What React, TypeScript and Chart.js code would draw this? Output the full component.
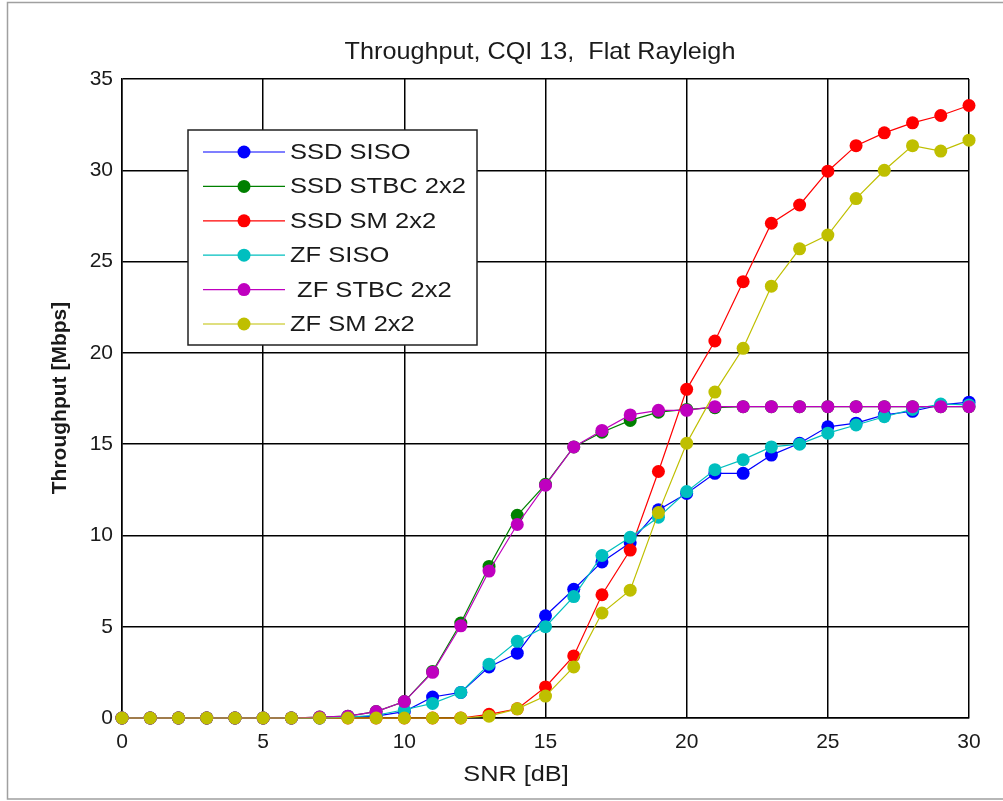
import React, { useEffect, useRef } from "react";
import { Chart, registerables } from "chart.js";

Chart.register(...registerables);

const snr = [0, 1, 2, 3, 4, 5, 6, 7, 8, 9, 10, 11, 12, 13, 14, 15, 16, 17, 18, 19, 20, 21, 22, 23, 24, 25, 26, 27, 28, 29, 30];

const ssdSiso = [0, 0, 0, 0, 0, 0, 0, 0, 0.05, 0.1, 0.35, 1.15, 1.4, 2.8, 3.55, 5.6, 7.05, 8.55, 9.6, 11.4, 12.3, 13.4, 13.4, 14.4, 15.05, 15.95, 16.15, 16.6, 16.8, 17.15, 17.3];
const ssdStbc = [0, 0, 0, 0, 0, 0, 0, 0.05, 0.1, 0.35, 0.9, 2.55, 5.2, 8.3, 11.1, 12.8, 14.85, 15.65, 16.3, 16.75, 16.9, 17.0, 17.05, 17.05, 17.05, 17.05, 17.05, 17.05, 17.05, 17.05, 17.05];
const ssdSm = [0, 0, 0, 0, 0, 0, 0, 0, 0, 0, 0, 0, 0, 0.2, 0.5, 1.7, 3.4, 6.75, 9.2, 13.5, 18.0, 20.65, 23.9, 27.1, 28.1, 29.95, 31.35, 32.05, 32.6, 33.0, 33.55];
const zfSiso = [0, 0, 0, 0, 0, 0, 0, 0, 0.05, 0.15, 0.45, 0.8, 1.4, 2.95, 4.2, 5.0, 6.65, 8.9, 9.9, 11.0, 12.4, 13.6, 14.15, 14.85, 15.0, 15.6, 16.05, 16.5, 16.9, 17.2, 17.15];
const zfStbc = [0, 0, 0, 0, 0, 0, 0, 0.05, 0.1, 0.35, 0.9, 2.5, 5.05, 8.05, 10.6, 12.75, 14.85, 15.75, 16.6, 16.85, 16.85, 17.05, 17.05, 17.05, 17.05, 17.05, 17.05, 17.05, 17.05, 17.05, 17.05];
const zfSm = [0, 0, 0, 0, 0, 0, 0, 0, 0, 0, 0, 0, 0, 0.1, 0.5, 1.2, 2.8, 5.75, 7.0, 11.25, 15.05, 17.85, 20.25, 23.65, 25.7, 26.45, 28.45, 30.0, 31.35, 31.05, 31.65];

const seriesNames = ["SSD SISO", "SSD STBC 2x2", "SSD SM 2x2", "ZF SISO", " ZF STBC 2x2", "ZF SM 2x2"];
const seriesValues = [ssdSiso, ssdStbc, ssdSm, zfSiso, zfStbc, zfSm];
const seriesColors = ["#0000ff", "#008000", "#ff0000", "#00bfbf", "#bf00bf", "#bfbf00"];

const xTicks = [0, 5, 10, 15, 20, 25, 30];
const yTicks = [0, 5, 10, 15, 20, 25, 30, 35];

const titleText = "Throughput, CQI 13,  Flat Rayleigh";
const xTitle = "SNR [dB]";
const yTitle = "Throughput [Mbps]";

const FONT = "'Liberation Sans', Arial, sans-serif";

function stretchedText(ctx: any, text: string, x: number, y: number, sx: number) {
  ctx.save();
  ctx.translate(x, y);
  ctx.scale(sx, 1);
  ctx.fillText(text, 0, 0);
  ctx.restore();
}

const decorPlugin = {
  id: "decor",
  beforeDraw(chart: any) {
    const ctx = chart.ctx;
    ctx.save();
    ctx.fillStyle = "#ffffff";
    ctx.fillRect(0, 0, chart.width, chart.height);
    ctx.strokeStyle = "#a0a0a0";
    ctx.lineWidth = 1.5;
    ctx.beginPath();
    ctx.moveTo(1003, 2.5);
    ctx.lineTo(7.5, 2.5);
    ctx.lineTo(7.5, 799);
    ctx.lineTo(1003, 799);
    ctx.stroke();
    ctx.restore();
  },
  afterDraw(chart: any) {
    const ctx = chart.ctx;
    const area = chart.chartArea;
    ctx.save();
    ctx.fillStyle = "#1a1a1a";
    ctx.textAlign = "center";
    ctx.textBaseline = "alphabetic";
    ctx.font = `24px ${FONT}`;
    stretchedText(ctx, titleText, 540, 59, 1.05);
    ctx.font = `22px ${FONT}`;
    stretchedText(ctx, xTitle, 516, 781, 1.15);
    ctx.save();
    ctx.translate(66, 398);
    ctx.rotate(-Math.PI / 2);
    ctx.font = `bold 21px ${FONT}`;
    ctx.fillText(yTitle, 0, 0);
    ctx.restore();

    // legend
    const bx = 188, by = 130, bw = 289, bh = 215;
    ctx.fillStyle = "#ffffff";
    ctx.fillRect(bx, by, bw, bh);
    ctx.strokeStyle = "#222";
    ctx.lineWidth = 1.5;
    ctx.strokeRect(bx, by, bw, bh);
    ctx.textAlign = "left";
    ctx.textBaseline = "middle";
    ctx.font = `22px ${FONT}`;
    chart.data.datasets.forEach((ds: any, i: number) => {
      const y = 152 + i * 34.4;
      ctx.strokeStyle = ds.borderColor;
      ctx.lineWidth = 1.2;
      ctx.beginPath();
      ctx.moveTo(203, y);
      ctx.lineTo(285, y);
      ctx.stroke();
      ctx.fillStyle = ds.backgroundColor;
      ctx.beginPath();
      ctx.arc(244, y, 6.5, 0, Math.PI * 2);
      ctx.fill();
      ctx.fillStyle = "#1a1a1a";
      stretchedText(ctx, ds.label, 290, y + 1, 1.16);
    });
    ctx.restore();
  },
};

export default function App() {
  const ref = useRef<HTMLCanvasElement>(null);
  useEffect(() => {
    const datasets = seriesValues.map((vals, i) => ({
      label: seriesNames[i],
      data: snr.map((x, j) => ({ x, y: vals[j] })),
      borderColor: seriesColors[i],
      backgroundColor: seriesColors[i],
      borderWidth: 1.2,
      pointRadius: 6.5,
      pointBorderWidth: 0,
      pointHoverRadius: 6.5,
      order: -i,
      tension: 0,
      clip: false as any,
    }));
    const chart = new Chart(ref.current as HTMLCanvasElement, {
      type: "line",
      data: { datasets },
      options: {
        animation: false,
        responsive: false,
        devicePixelRatio: 1,
        layout: { padding: { left: 0, top: 79, right: 34, bottom: 0 } },
        plugins: { legend: { display: false }, title: { display: false }, tooltip: { enabled: false } },
        scales: {
          x: {
            type: "linear",
            min: 0,
            max: 30,
            afterFit: (s: any) => { s.height = 83; },
            afterBuildTicks: (s: any) => { s.ticks = xTicks.map((v) => ({ value: v })); },
            grid: { color: "#000", lineWidth: 1.5, drawTicks: false },
            border: { display: true, color: "#000", width: 1.5 },
            ticks: { padding: 12, color: "#1a1a1a", font: { family: FONT, size: 21 } },
          },
          y: {
            type: "linear",
            min: 0,
            max: 35,
            afterFit: (s: any) => { s.width = 122; },
            afterBuildTicks: (s: any) => { s.ticks = yTicks.map((v) => ({ value: v })); },
            grid: { color: "#000", lineWidth: 1.5, drawTicks: false },
            border: { display: true, color: "#000", width: 1.5 },
            ticks: { padding: 9, color: "#1a1a1a", font: { family: FONT, size: 21 } },
          },
        },
      },
      plugins: [decorPlugin],
    });
    return () => chart.destroy();
  }, []);
  return (
    <div style={{ position: "fixed", left: 0, top: 0, width: 1003, height: 801, background: "#fff" }}>
      <canvas ref={ref} width={1003} height={801} style={{ display: "block" }} />
    </div>
  );
}
